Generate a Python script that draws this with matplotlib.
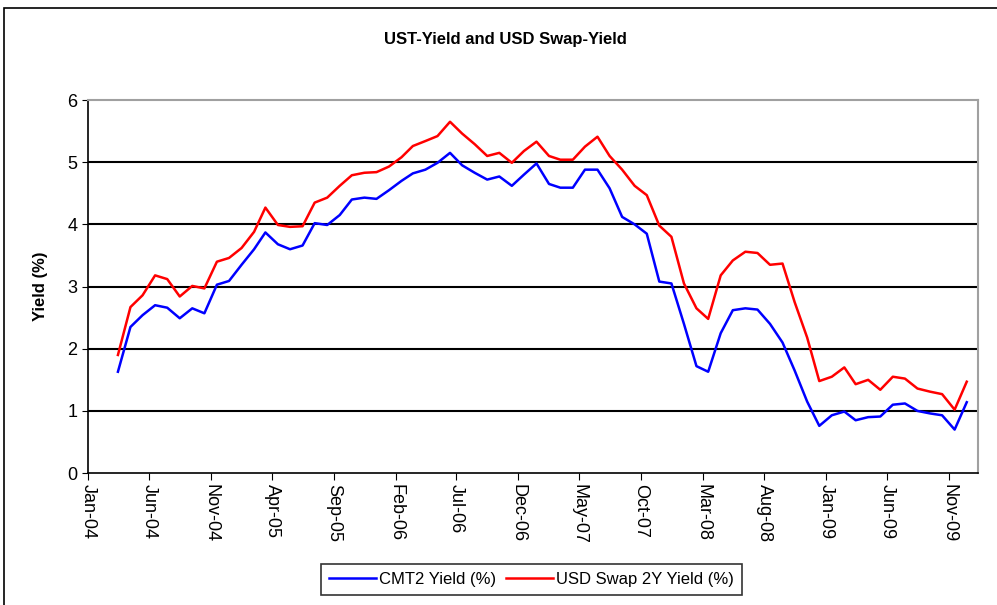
import matplotlib
matplotlib.use("Agg")
from matplotlib import pyplot as plt
from matplotlib.patches import Rectangle
import numpy as np
import pandas as pd

plt.rcParams['font.family'] = ['Liberation Sans Narrow', 'Liberation Sans', 'DejaVu Sans']

# monthly observations, Mar-04 .. Dec-09 (mid-month)
dates = pd.date_range('2004-03-01', periods=70, freq='MS') + pd.Timedelta(days=14)

cmt2 = np.array([
    1.63, 2.35, 2.54, 2.70, 2.66, 2.49, 2.65, 2.57, 3.03, 3.09,   # Mar04-Dec04
    3.35, 3.60, 3.87, 3.68, 3.60, 3.66, 4.02, 3.99, 4.15, 4.40,   # Jan05-Oct05
    4.43, 4.41, 4.55, 4.70, 4.82, 4.88, 4.99, 5.15, 4.95, 4.83,   # Nov05-Aug06
    4.72, 4.77, 4.62, 4.80, 4.98, 4.65, 4.59, 4.59, 4.88, 4.88,   # Sep06-Jun07
    4.58, 4.12, 4.00, 3.85, 3.08, 3.05, 2.40, 1.72, 1.63, 2.25,   # Jul07-Apr08
    2.62, 2.65, 2.63, 2.40, 2.10, 1.65, 1.15, 0.76, 0.93, 0.99,   # May08-Feb09
    0.85, 0.90, 0.91, 1.10, 1.12, 1.00, 0.96, 0.93, 0.70, 1.14,   # Mar09-Dec09
])

swap2y = np.array([
    1.90, 2.67, 2.86, 3.18, 3.12, 2.84, 3.01, 2.97, 3.40, 3.46,
    3.62, 3.88, 4.27, 3.99, 3.96, 3.97, 4.35, 4.43, 4.62, 4.79,
    4.83, 4.84, 4.93, 5.08, 5.26, 5.34, 5.42, 5.65, 5.46, 5.29,
    5.10, 5.15, 4.99, 5.18, 5.33, 5.10, 5.04, 5.04, 5.25, 5.41,
    5.10, 4.88, 4.62, 4.47, 3.98, 3.80, 3.05, 2.65, 2.48, 3.18,
    3.42, 3.56, 3.54, 3.35, 3.37, 2.75, 2.18, 1.48, 1.55, 1.70,
    1.43, 1.50, 1.34, 1.55, 1.52, 1.36, 1.31, 1.27, 1.02, 1.47,
])

tick_dates = pd.date_range('2004-01-01', '2009-11-01', freq='5MS')
tick_labels = [d.strftime('%b-%y') for d in tick_dates]

fig = plt.figure(figsize=(9.97, 6.05), dpi=100)
ax = fig.add_axes([0.0883, 0.218, 0.8927, 0.6167])

# outer chart border
fig.patches.append(Rectangle((0.004, -0.1), 1.2, 1.087, transform=fig.transFigure,
                             fill=False, edgecolor='black', linewidth=1.2))

ax.plot(dates, cmt2, color='#0000ff', linewidth=1.8, label='CMT2 Yield (%)')
ax.plot(dates, swap2y, color='#ff0000', linewidth=1.8, label='USD Swap 2Y Yield (%)')

ax.set_ylim(0, 6)
ax.set_yticks(range(0, 7))
ax.set_xlim(pd.Timestamp('2004-01-01'), pd.Timestamp('2010-01-12'))
ax.set_xticks(tick_dates)
ax.set_xticklabels(tick_labels, rotation=-90, fontsize=13)
ax.tick_params(axis='y', labelsize=13, length=4, direction='out')
ax.tick_params(axis='x', length=5, direction='out', pad=3)

for v in range(1, 6):
    ax.axhline(v, color='black', linewidth=1.5, zorder=1)

for s in ['top', 'right']:
    ax.spines[s].set_color('#a0a0a0')
    ax.spines[s].set_linewidth(1.5)
ax.spines['left'].set_linewidth(1.2)
ax.spines['bottom'].set_linewidth(1.2)

ax.set_ylabel('Yield (%)', fontsize=12, fontweight='bold', labelpad=14)
fig.text(0.507, 0.934, 'UST-Yield and USD Swap-Yield', ha='center', va='center',
         fontsize=12, fontweight='bold')

leg = fig.legend(loc='center', bbox_to_anchor=(0.533, 0.042), ncol=2, fontsize=12,
                 frameon=True, fancybox=False, handlelength=2.8, handletextpad=0.2,
                 columnspacing=0.6, borderpad=0.5)
leg.get_frame().set_edgecolor('black')
leg.get_frame().set_linewidth(1.2)

fig.savefig('out.png', dpi=100)
